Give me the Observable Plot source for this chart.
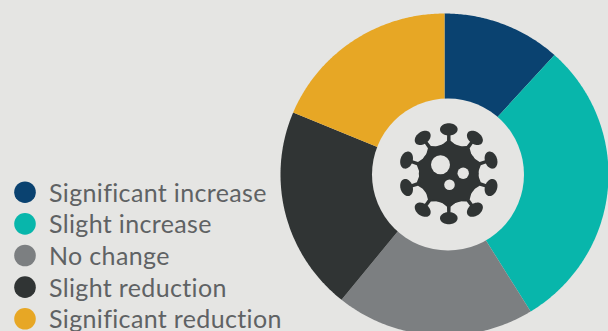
<!DOCTYPE html>
<html>
<head>
<meta charset="utf-8">
<script src="https://cdn.jsdelivr.net/npm/d3@7"></script>
<script src="https://cdn.jsdelivr.net/npm/@observablehq/plot@0.6"></script>
<style>
  html, body { margin: 0; padding: 0; background: #e5e5e3; overflow: hidden; }
  svg { display: block; }
</style>
</head>
<body>
<div id="chart"></div>
<script>
// Share of responses per category, in percent, clockwise from twelve o'clock
const categories = ["Significant increase", "Slight increase", "No change", "Slight reduction", "Significant reduction"];
const shares = [11.7, 29.5, 19.6, 20.5, 18.7];
const colors = ["#0a4270", "#08b6ab", "#7c7f81", "#303434", "#e7a725"];

const background = "#e5e5e3";
const ink = "#303434";

const width = 608, height = 331;
const cx = 444, cy = 174;      // pie centre on the page
const radiusX = 164, radiusY = 161;

// Each slice becomes a closed outline in coordinates centred on the pie
const arcs = d3.pie().sort(null).value((_, i) => shares[i])(categories);
const slices = arcs.flatMap((arc) => {
  const steps = Math.ceil((arc.endAngle - arc.startAngle) / 0.01);
  const rim = d3.range(steps + 1).map((i) => {
    const a = arc.startAngle + (arc.endAngle - arc.startAngle) * i / steps;
    return {x: radiusX * Math.sin(a), y: radiusY * Math.cos(a), category: arc.data};
  });
  return [{x: 0, y: 0, category: arc.data}, ...rim];
});

// Virus emblem in the hole: body, ten spikes with tapered stems, three pale spots
const hole = {x: 3.5, y: 0, r: 76};
const virus = {x: 4.3, y: 0.7, r: 30, spikeAt: 44.4};
const spikeAngles = d3.range(10).map((i) => i * Math.PI / 5);
const spikeHeads = spikeAngles.flatMap((t, k) => d3.range(48).map((i) => {
  const u = i / 48 * 2 * Math.PI;
  const along = 8.8 * Math.cos(u), radial = 6.1 * Math.sin(u);
  return {
    id: k,
    x: virus.x + (virus.spikeAt + radial) * Math.sin(t) + along * Math.cos(t),
    y: virus.y + (virus.spikeAt + radial) * Math.cos(t) - along * Math.sin(t)
  };
}));
const stems = spikeAngles.flatMap((t, k) => [[28, 8], [33, 1.8], [42, 1.6], [42, -1.6], [33, -1.8], [28, -8]].map(([r, w]) => ({
  id: k,
  x: virus.x + r * Math.sin(t) + w * Math.cos(t),
  y: virus.y + r * Math.cos(t) - w * Math.sin(t)
})));
const spots = [
  {x: -8.3, y: 9, r: 9.5},
  {x: 14.4, y: 0.6, r: 5.7},
  {x: 0.7, y: -11, r: 5.3}
];

// Legend rows stacked down the lower left, placed in the same centred coordinates
const legend = categories.map((name, i) => ({
  name,
  y: cy - (191.7 + i * 31.65)
}));

const chart = Plot.plot({
  width, height,
  margin: 0,
  style: {background, overflow: "hidden", letterSpacing: "0.35px"},
  x: {domain: [-cx, width - cx], range: [0, width], axis: null},
  y: {domain: [cy, cy - height], range: [0, height], axis: null},
  r: {type: "identity"},
  color: {domain: categories, range: colors},
  marks: [
    Plot.line(slices, {
      x: "x", y: "y", z: "category", fill: "category",
      stroke: null, curve: "linear-closed"
    }),
    Plot.dot([hole], {x: "x", y: "y", r: "r", fill: background, stroke: null}),
    Plot.line(stems, {x: "x", y: "y", z: "id", fill: ink, stroke: null, curve: "linear-closed"}),
    Plot.line(spikeHeads, {x: "x", y: "y", z: "id", fill: ink, stroke: null, curve: "linear-closed"}),
    Plot.dot([virus], {x: "x", y: "y", r: "r", fill: ink, stroke: null}),
    Plot.dot(spots, {
      x: (d) => virus.x + d.x, y: (d) => virus.y + d.y, r: "r",
      fill: background, stroke: null
    }),
    Plot.dot(legend, {
      x: () => 24.5 - cx, y: "y", r: () => 10.8,
      fill: "name", stroke: null
    }),
    Plot.text(legend, {
      x: () => 48.5 - cx, y: (d) => d.y - 1.5, text: "name",
      textAnchor: "start", lineAnchor: "middle",
      fill: "#5f6264", fontSize: 25,
      fontFamily: "Lato, sans-serif"
    })
  ]
});

document.getElementById("chart").append(chart);
</script>
</body>
</html>
